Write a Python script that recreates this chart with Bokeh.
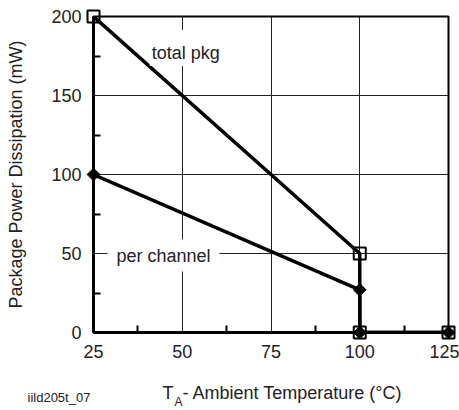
from math import pi
from bokeh.plotting import figure
from bokeh.models import Range1d, FixedTicker, Label
from bokeh.embed import file_html
from bokeh.resources import INLINE
from bokeh.core.properties import value

# ---- data ----
temp_total = [25, 100, 100, 125]
power_total = [200, 50, 0, 0]
temp_channel = [25, 100, 100, 125]
power_channel = [100, 27, 0, 0]
x_ticks = [25, 50, 75, 100, 125]
x_minor = [37.5, 62.5, 87.5, 112.5]
y_ticks = [0, 50, 100, 150, 200]
y_minor = [25, 75, 125, 175]

FONT = "Liberation Sans"
TXT = "#222222"

p = figure(width=459, height=410, output_backend="svg", toolbar_location=None,
           x_range=Range1d(25, 125), y_range=Range1d(0, 200),
           min_border_left=93, min_border_right=11, min_border_top=16, min_border_bottom=78)

p.background_fill_color = "white"
p.border_fill_color = "white"
p.outline_line_color = "black"
p.outline_line_width = 2

for ax, ticks, minor in ((p.xaxis[0], x_ticks, x_minor), (p.yaxis[0], y_ticks, y_minor)):
    ax.ticker = FixedTicker(ticks=ticks, minor_ticks=minor)
    ax.axis_line_color = "black"
    ax.axis_line_width = 3
    ax.major_tick_in = 0
    ax.major_tick_out = 0
    ax.minor_tick_in = 7
    ax.minor_tick_out = 0
    ax.minor_tick_line_width = 2
    ax.minor_tick_line_color = "black"
    ax.major_label_text_font = FONT
    ax.major_label_text_font_size = "18px"
    ax.major_label_text_color = TXT
    ax.major_label_standoff = 12

p.yaxis[0].axis_label = "Package Power Dissipation (mW)"
p.yaxis[0].axis_label_text_font = FONT
p.yaxis[0].axis_label_text_font_size = "18px"
p.yaxis[0].axis_label_text_font_style = "normal"
p.yaxis[0].axis_label_text_color = TXT
p.yaxis[0].axis_label_standoff = 22

p.xgrid.ticker = FixedTicker(ticks=x_ticks)
p.ygrid.ticker = FixedTicker(ticks=y_ticks)
p.grid.grid_line_color = "#222222"
p.grid.grid_line_width = 1

# lines
p.line(temp_total, power_total, line_color="black", line_width=3.5)
p.line(temp_channel, power_channel, line_color="black", line_width=3.5)

# markers (overlay level so corner markers are not clipped)
p.scatter(temp_channel, power_channel, marker="square", angle=pi / 4, size=9,
          fill_color="black", line_color="black", line_width=1, level="overlay")
p.scatter(temp_total, power_total, marker="square", size=12,
          fill_color=None, line_color="black", line_width=2, level="overlay")

# in-plot labels
p.add_layout(Label(x=51, y=180, text="total pkg", text_align="center", text_baseline="middle",
                   text_font=FONT, text_font_size="18px", text_color=TXT,
                   background_fill_color="white",
                   padding=dict(left=2, right=2, top=13, bottom=3)))
p.add_layout(Label(x=44.7, y=48.7, text="per channel", text_align="center", text_baseline="middle",
                   text_font=FONT, text_font_size="18px", text_color=TXT,
                   background_fill_color="white",
                   padding=dict(left=9, right=9, top=6, bottom=6)))

# x axis title with subscript, and figure id (overlay-level text, below the frame)
tx = dict(text_align="left", text_baseline="middle", text_font=value(FONT),
          text_color=TXT, level="overlay")
p.text(x=[44.44], y=[-38.6], text=["T"], text_font_size="18px", **tx)
p.text(x=[44.44], y=[-38.6], x_offset=12, y_offset=9, text=["A"], text_font_size="12px", **tx)
p.text(x=[44.44], y=[-38.6], x_offset=20, text=["- Ambient Temperature (°C)"],
       text_font_size="18px", **tx)
p.text(x=[6.41], y=[-41.1], text=["iild205t_07"], text_font_size="13px", **tx)

open("out.html", "w").write(file_html(p, INLINE))
